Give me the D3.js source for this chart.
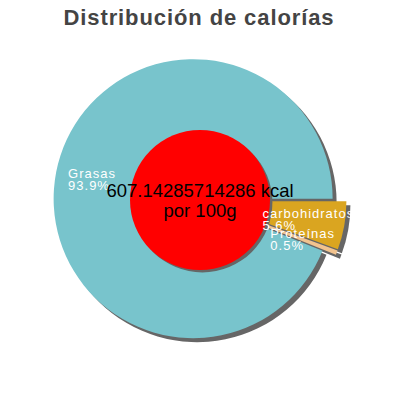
<!DOCTYPE html>
<html>
<head>
<meta charset="utf-8">
<script src="https://cdn.jsdelivr.net/npm/d3@7"></script>
<style>
  body { margin: 0; background: #fff; }
  svg { display: block; font-family: "Liberation Sans", Arial, sans-serif; }
</style>
</head>
<body>
<div id="chart"></div>
<script>
// Dane wykresu
const categories = ["Grasas", "carbohidratos", "Proteínas"];
const percents = [93.9, 5.6, 0.5];
const sliceColors = ["#78c4cc", "#daa520", "#f2c38e"];
const titleText = "Distribución de calorías";
const centerLines = ["607.14285714286 kcal", "por 100g"];

const W = 400, H = 400;
const cx = 200, cy = 200;
const radius = 139.5;
const innerR = 70;
const explode = 7;
const labelR = 103;
const shadow = { dx: 4, dy: 4, color: "#666" };

const svg = d3.select("#chart")
  .append("svg")
  .attr("width", W)
  .attr("height", H);

// Tytuł
svg.append("text")
  .attr("x", 199)
  .attr("y", 25)
  .attr("text-anchor", "middle")
  .style("font-size", "22px")
  .style("font-weight", "bold")
  .style("letter-spacing", "0.9px")
  .style("fill", "#444")
  .text(titleText);

// Grasas zaczyna się tam, gdzie kończą się pozostałe (od godziny 3, zgodnie z ruchem wskazówek)
const total = d3.sum(percents);
const start = Math.PI / 2 + 2 * Math.PI * (1 - percents[0] / total);

const pie = d3.pie()
  .sort(null)
  .value(d => d.value)
  .startAngle(start)
  .endAngle(start + 2 * Math.PI);

const data = categories.map((c, i) => ({ name: c, value: percents[i], color: sliceColors[i] }));
const arcs = pie(data);

const arc = d3.arc().innerRadius(0).outerRadius(radius);

const offset = d => {
  const a = (d.startAngle + d.endAngle) / 2;
  return [Math.sin(a) * explode, -Math.cos(a) * explode];
};

const g = svg.append("g").attr("transform", `translate(${cx},${cy})`);

// Cienie
g.selectAll("path.shadow")
  .data(arcs)
  .join("path")
  .attr("class", "shadow")
  .attr("fill", shadow.color)
  .attr("d", arc)
  .attr("transform", d => {
    const o = offset(d);
    return `translate(${o[0] + shadow.dx},${o[1] + shadow.dy})`;
  });

// Wycinki
g.selectAll("path.slice")
  .data(arcs)
  .join("path")
  .attr("class", "slice")
  .attr("fill", d => d.data.color)
  .attr("d", arc)
  .attr("transform", d => `translate(${offset(d)})`);

// Środkowe koło
g.append("circle")
  .attr("cx", shadow.dx * 0.6)
  .attr("cy", shadow.dy * 0.6)
  .attr("r", innerR)
  .attr("fill", shadow.color);

g.append("circle")
  .attr("r", innerR)
  .attr("fill", "#ff0000");

// Etykiety
arcs.forEach(d => {
  const a = (d.startAngle + d.endAngle) / 2;
  const o = offset(d);
  const px = o[0] + Math.sin(a) * labelR;
  const py = o[1] - Math.cos(a) * labelR;
  const lines = [d.data.name, d.data.value.toFixed(1) + "%"];
  const t = g.append("text")
    .style("font-size", "13px")
    .style("letter-spacing", "1px")
    .style("fill", "#fff");
  lines.forEach((l, i) => {
    t.append("tspan").attr("x", 0).attr("y", i * 12).text(l);
  });
  const bb = t.node().getBBox();
  t.attr("transform", `translate(${px - bb.width / 2},${py - bb.y - bb.height / 2})`);
});

// Tekst w środku
const ct = g.append("text")
  .attr("text-anchor", "middle")
  .style("font-size", "18.5px")
  .style("fill", "#000");
centerLines.forEach((l, i) => {
  ct.append("tspan").attr("x", 0).attr("y", -3 + i * 19.5).text(l);
});
</script>
</body>
</html>
